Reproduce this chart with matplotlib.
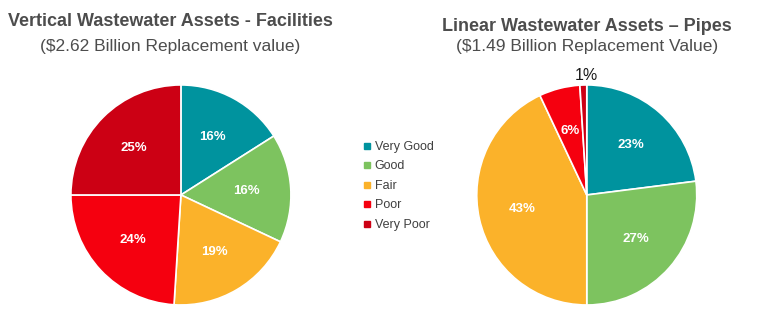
import matplotlib.pyplot as plt
from matplotlib.lines import Line2D

plt.rcParams['font.family'] = ['Liberation Sans', 'DejaVu Sans']

categories = ["Very Good", "Good", "Fair", "Poor", "Very Poor"]
colors = ["#00939E", "#7DC35F", "#FBB22A", "#F5000F", "#CC0014"]

facilities = [16, 16, 19, 24, 25]
pipes = [23, 27, 43, 6, 1]

TITLE_C = "#4D4D4D"


def draw_pie(ax, values, small_outside=False):
    wedges, texts, autotexts = ax.pie(
        values, colors=colors, startangle=90, counterclock=False,
        autopct="%d%%", pctdistance=0.6,
        wedgeprops=dict(edgecolor="white", linewidth=1.2),
        textprops=dict(color="white", fontsize=9.5, fontweight="bold"))
    if small_outside:
        for v, t in zip(values, autotexts):
            if v < 3:
                t.set_position((0, 1.09))
                t.set_color("#1A1A1A")
                t.set_fontweight("normal")
                t.set_fontsize(11.5)
    ax.set_xlim(-1, 1)
    ax.set_ylim(-1, 1)
    ax.set_aspect("equal")
    return wedges


fig = plt.figure(figsize=(7.6, 3.32), dpi=100)

ax1 = fig.add_axes([0.238 - 0.1447, 0.4127 - 0.3313, 0.2895, 0.6627])
draw_pie(ax1, facilities)

ax2 = fig.add_axes([0.772 - 0.1447, 0.4127 - 0.3313, 0.2895, 0.6627])
draw_pie(ax2, pipes, small_outside=True)

fig.text(0.224, 0.935, "Vertical Wastewater Assets - Facilities", ha="center",
         va="center", fontsize=13, fontweight="bold", color=TITLE_C)
fig.text(0.224, 0.86, "($2.62 Billion Replacement value)", ha="center",
         va="center", fontsize=12.5, color=TITLE_C)
fig.text(0.772, 0.92, "Linear Wastewater Assets \u2013 Pipes", ha="center",
         va="center", fontsize=13, fontweight="bold", color=TITLE_C)
fig.text(0.772, 0.86, "($1.49 Billion Replacement Value)", ha="center",
         va="center", fontsize=12.5, color=TITLE_C)

handles = [Line2D([], [], marker="s", linestyle="", markersize=5,
                  markerfacecolor=c, markeredgecolor=c) for c in colors]
fig.legend(handles, categories, loc="center left", bbox_to_anchor=(0.462, 0.44),
           frameon=False, fontsize=9, handletextpad=0.2, labelspacing=0.6,
           handlelength=0.8, labelcolor="#404040")

fig.savefig("out.png", dpi=100)
